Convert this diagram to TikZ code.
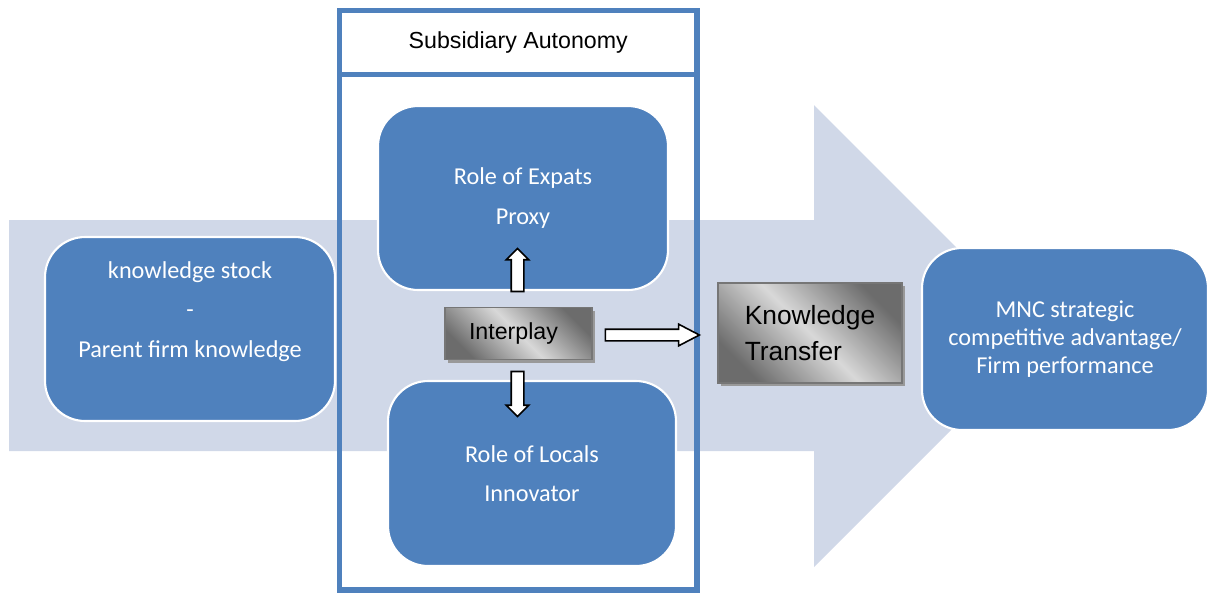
\documentclass[tikz,border=0pt]{standalone}
\usepackage{fontspec}
\setmainfont{Liberation Sans}
\newfontfamily\calibfont{Carlito}
\usetikzlibrary{shapes.arrows,shadows,calc}
\definecolor{roleblue}{RGB}{79,129,189}
\definecolor{bandfill}{RGB}{208,216,232}
\definecolor{plateline}{RGB}{118,118,118}
\definecolor{platedark}{RGB}{108,108,108}
\definecolor{platelight}{RGB}{216,216,216}

\begin{document}
\begin{tikzpicture}[
  x=0.02cm, y=-0.02cm,
  rolebox/.style={
    rectangle, rounded corners=0.8cm, fill=roleblue, draw=white, line width=1.2pt,
    text=white, align=center, minimum width=5.8cm, minimum height=3.68cm,
    font=\calibfont\fontsize{13.8}{22.5}\selectfont
  },
  framebox/.style={
    rectangle, draw=roleblue, line width=3.3pt, inner sep=0pt, minimum width=7.15cm
  },
  plate/.style={
    rectangle, draw=plateline, line width=1pt, align=left,
    top color=platedark, bottom color=platedark, middle color=platelight, shading angle=-45,
    drop shadow={shadow xshift=0.06cm, shadow yshift=-0.06cm, fill=black!40, opacity=1}
  },
  blockarr/.style={
    single arrow, draw=black, fill=white, line width=0.9pt,
    inner xsep=0pt, inner ysep=0.11cm, single arrow head extend=0.1cm
  }
]
\useasboundingbox (0,0) rectangle (1211,593);

% =====================================================================
% Background band arrow
% =====================================================================
\fill[bandfill] (9,220) -- (814,220) -- (814,105) -- (1045,336)
  -- (814,567) -- (814,451) -- (9,451) -- cycle;

% =====================================================================
% Subsidiary frame
% =====================================================================
\node[framebox, minimum height=10.31cm] (subsframe) at (518.25,332.25) {};
\node[framebox, fill=white, minimum height=1.28cm, font=\fontsize{13.2}{16}\selectfont]
  (autonomy) at (518.25,42.5) {Subsidiary Autonomy};

% =====================================================================
% Role boxes
% =====================================================================
\node[rolebox] (stock) at (190,329)
  {knowledge stock\\-\\Parent firm knowledge\\~};
\node[rolebox] (expats) at (523,198) {Role of Expats\\Proxy};
\node[rolebox, minimum width=5.76cm, minimum height=3.7cm] (locals) at (532,473.5)
  {Role of Locals\\Innovator};
\node[rolebox, minimum width=5.72cm, minimum height=3.64cm,
  font=\calibfont\fontsize{13.8}{15.9}\selectfont] (mnc) at (1065,339)
  {MNC strategic\\competitive advantage/\\Firm performance};

% =====================================================================
% Gray plates
% =====================================================================
\node[plate, minimum width=2.94cm, minimum height=1.04cm,
  font=\fontsize{13.2}{16}\selectfont] (inter) at (518.5,333.5)
  {Interplay\hspace{0.2cm}};
\node[plate, minimum width=3.68cm, minimum height=2cm,
  font=\fontsize{15}{20.4}\selectfont] (transfer) at (810,333)
  {Knowledge\\Transfer};

% =====================================================================
% Block arrows
% =====================================================================
\node[blockarr, rotate=90, minimum height=0.86cm] (toexpats)
  at ($(inter.north)+(-1,-33.5)$) {};
\node[blockarr, rotate=-90, minimum height=0.9cm] (tolocals)
  at ($(inter.south)+(-1,30.5)$) {};
\node[blockarr, minimum height=1.88cm, inner ysep=0.1cm, single arrow tip angle=55]
  (totransfer) at ($(inter.east)+(54,1.5)$) {};

\end{tikzpicture}
\end{document}
